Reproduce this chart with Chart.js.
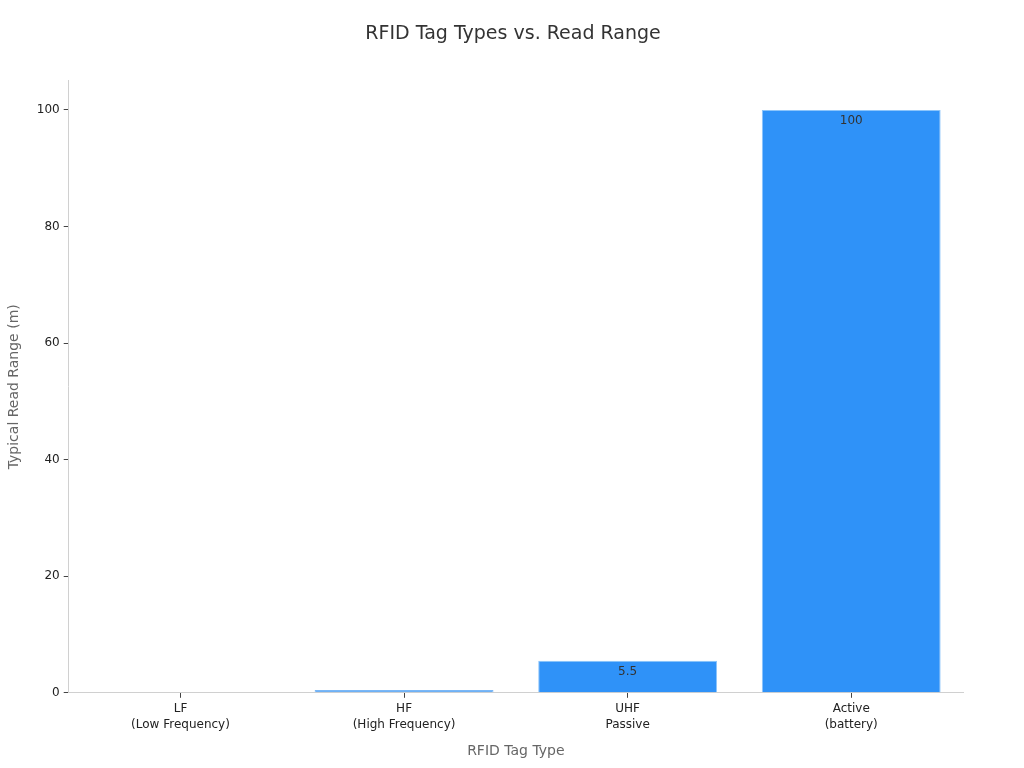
<!DOCTYPE html>
<html>
<head>
<meta charset="utf-8">
<script src="https://cdn.jsdelivr.net/npm/chart.js@4"></script>
<style>
  html, body { margin: 0; padding: 0; background: #fff; }
  #wrap { width: 1024px; height: 768px; }
</style>
</head>
<body>
<div id="wrap"><canvas id="chart" width="1024" height="768"></canvas></div>
<script>
const categories = [['LF', '(Low Frequency)'], ['HF', '(High Frequency)'], ['UHF', 'Passive'], ['Active', '(battery)']];
const readRange = [0.1, 0.5, 5.5, 100];
const barColors = ['#d3e1ef', '#6fb1f5', '#2f92f8', '#2f92f8'];
const borderColors = ['#d9e5f1', '#7ab7f6', '#8cc5fb', '#8cc5fb'];
const labelMin = 1;

// draw the value inside the top of each bar (small ones skipped)
const valueLabels = {
    id: 'valueLabels',
    afterDatasetsDraw(chart) {
        const ctx = chart.ctx;
        const meta = chart.getDatasetMeta(0);
        ctx.save();
        ctx.font = '12px "DejaVu Sans"';
        ctx.fillStyle = '#333';
        ctx.textAlign = 'center';
        ctx.textBaseline = 'top';
        meta.data.forEach((bar, i) => {
            const v = readRange[i];
            if (v < labelMin) return;
            ctx.fillText(String(v), bar.x, bar.y + 5);
        });
        ctx.restore();
    }
};

Chart.defaults.font.family = '"DejaVu Sans", sans-serif';
Chart.defaults.color = '#222';

new Chart(document.getElementById('chart').getContext('2d'), {
    type: 'bar',
    data: {
        labels: categories,
        datasets: [{
            label: 'Typical Read Range (m)',
            data: readRange,
            backgroundColor: barColors,
            borderColor: borderColors,
            borderWidth: 1,
            barPercentage: 0.8,
            categoryPercentage: 1.0
        }]
    },
    options: {
        responsive: false,
        animation: false,
        layout: { padding: { top: 10, right: 0, left: 2, bottom: 4 } },
        plugins: {
            legend: { display: false },
            tooltip: { enabled: false },
            title: {
                display: true,
                text: 'RFID Tag Types vs. Read Range',
                font: { size: 19, weight: 'normal' },
                color: '#333',
                padding: { top: 13, bottom: 35 }
            }
        },
        scales: {
            x: {
                grid: { display: true, drawOnChartArea: false, offset: false, tickLength: 5, color: '#444' },
                border: { color: '#d0d0d0' },
                ticks: { font: { size: 12, lineHeight: 1.35 }, color: '#222', padding: 3 },
                title: {
                    display: true,
                    text: 'RFID Tag Type',
                    font: { size: 14 },
                    color: '#666',
                    padding: { top: 7 }
                }
            },
            y: {
                min: 0,
                max: 105,
                grid: { display: true, drawOnChartArea: false, tickLength: 5, color: '#444' },
                border: { color: '#d0d0d0' },
                afterBuildTicks: (axis) => {
                    axis.ticks = axis.ticks.filter(t => t.value % 20 === 0 && t.value <= 100);
                },
                ticks: {
                    stepSize: 20,
                    font: { size: 12 },
                    color: '#222',
                    padding: 4
                },
                title: {
                    display: true,
                    text: 'Typical Read Range (m)',
                    font: { size: 14 },
                    color: '#666',
                    padding: { top: 4, bottom: 10 }
                }
            },
            // empty right margin so the title stays centred on the page
            spacer: {
                type: 'linear',
                position: 'right',
                grid: { display: false },
                border: { display: false },
                ticks: { display: false },
                afterFit: (axis) => { axis.width = 61; }
            }
        }
    },
    plugins: [valueLabels]
});
</script>
</body>
</html>
